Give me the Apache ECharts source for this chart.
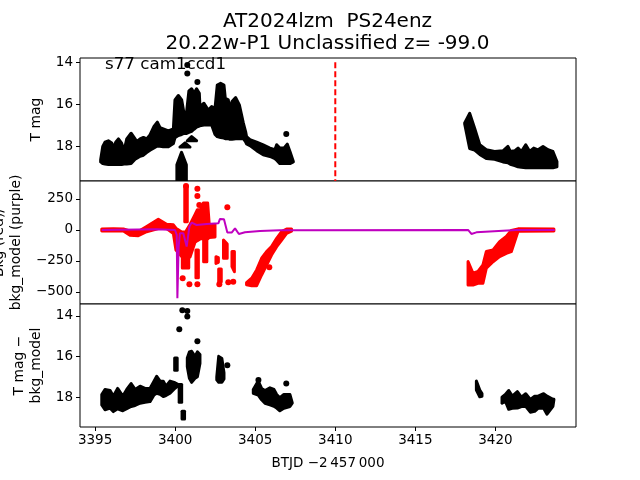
<!DOCTYPE html>
<html><head><meta charset="utf-8">
<style>html,body{margin:0;padding:0;background:#fff}#c{width:640px;height:480px}</style>
<script src="https://cdn.jsdelivr.net/npm/echarts@6/dist/echarts.min.js"></script>
</head><body><div id="c"></div>
<script>
// Dense point clouds: each block is a list of [BTJD, upper value, lower value]
const magBlocks = [
 [[3395.35,18.66,18.76],[3395.48,18.02,18.84],[3395.62,17.82,18.86],[3395.83,17.75,18.88],[3396.04,17.86,18.88],[3396.14,18.10,18.88],
  [3396.29,17.82,18.88],[3396.46,17.66,18.88],[3396.66,17.86,18.88],[3396.81,18.23,18.86],[3396.98,17.66,18.86],[3397.25,17.39,18.84],
  [3397.50,17.66,18.63],[3397.64,17.78,18.57],[3397.81,17.66,18.49],[3398.02,17.59,18.44],[3398.22,17.66,18.31],[3398.43,17.47,18.20],
  [3398.68,17.07,18.09],[3398.89,16.86,18.00],[3399.06,17.12,18.01],[3399.26,17.18,18.04],[3399.58,17.28,18.04],[3399.89,17.18,17.88],
  [3399.99,15.80,17.60],[3400.20,15.59,17.50],[3400.41,15.80,17.45],[3400.55,16.42,17.40],
  [3400.72,16.35,17.40],[3400.86,15.37,17.35],[3401.03,15.27,17.30],[3401.18,15.48,17.20],[3401.34,15.27,17.10],[3401.51,15.48,17.05],
  [3401.55,16.12,17.03],[3401.80,15.96,17.00],[3402.07,16.28,17.00],[3402.28,16.12,17.00],[3402.49,16.20,17.45],[3402.63,15.09,17.55],
  [3402.84,15.01,17.60],[3403.05,15.09,17.62],[3403.13,15.72,17.65],[3403.32,15.80,17.65],[3403.42,16.28,17.68],[3403.55,15.88,17.68],
  [3403.78,15.69,17.65],[3404.01,16.04,17.65],[3404.26,16.91,17.65],[3404.40,17.31,17.80],[3404.46,17.55,17.90],[3404.67,17.70,17.98],
  [3405.09,17.82,18.22],[3405.50,17.95,18.42],[3405.92,18.10,18.50],[3406.23,18.18,18.60],[3406.34,17.94,18.68],[3406.54,18.10,18.84],
  [3406.79,18.10,18.84],[3407.00,17.91,18.84],[3407.17,18.26,18.84],[3407.38,18.74,18.76]],
 [[3400.11,18.90,19.70],[3400.40,18.30,19.70],[3400.70,18.90,19.70]],
 [[3400.30,18.05,18.05],[3400.62,17.85,18.05],[3400.93,18.05,18.05]],
 [[3400.76,17.75,17.75],[3401.03,17.55,17.75],[3401.34,17.75,17.75]],
 [[3418.08,16.90,16.95],[3418.39,16.44,18.12],[3418.70,17.15,18.20],[3419.02,17.94,18.40],[3419.43,18.18,18.60],[3419.95,18.26,18.63],
  [3420.47,18.23,18.76],[3420.78,18.02,18.80],[3420.93,18.26,18.87],[3421.20,18.23,18.93],[3421.41,18.10,18.99],[3421.62,18.26,19.02],
  [3421.89,17.94,19.04],[3422.14,18.26,19.04],[3422.39,18.10,19.04],[3422.66,18.18,19.04],[3422.97,18.02,19.04],[3423.28,18.18,19.04],
  [3423.59,18.26,19.04],[3423.84,18.74,18.99]]
];
const magDots = [[3400.76,14.14],[3400.76,14.54],[3401.39,14.94],[3406.94,17.43]];

const bkgBlocks = [
 [[3395.42,8,-8],[3396.14,9,-9],[3396.77,8,-9],[3397.18,-8,-42],[3397.70,-12,-46],[3398.22,28,-14],[3398.95,86,12],[3399.47,46,12],
  [3399.89,42,-28],[3400.05,14,-162],[3400.41,-16,-215],[3400.65,-16,-215],[3400.93,44,-218],[3401.24,124,-100],[3401.39,164,-86],
  [3401.59,164,-71],[3401.76,218,-71],[3402.03,218,-71],[3402.13,44,-61],[3402.49,44,-57]],
 [[3400.68,350,66]],
 [[3400.45,-217,-306],[3400.85,-217,-306]],
 [[3401.30,-161,-385],[3401.45,-161,-385]],
 [[3401.78,-49,-256],[3401.98,-49,-256]],
 [[3402.55,-215,-269],[3402.70,-223,-261]],
 [[3402.72,-314,-417],[3402.88,-314,-417]],
 [[3403.02,-80,-229],[3403.25,-114,-229]],
 [[3403.55,-174,-296],[3403.70,-174,-336]],
 [[3404.46,-425,-442],[3404.78,-389,-449],[3405.09,-322,-449],[3405.40,-228,-363],[3405.71,-174,-283],[3406.02,-134,-202],
  [3406.34,-67,-135],[3406.65,-13,-81],[3406.96,8,-27],[3407.27,8,-10]],
 [[3418.29,-255,-444],[3418.60,-349,-444],[3418.91,-335,-430],[3419.22,-282,-430],[3419.43,-174,-309],[3419.85,-161,-256],
  [3420.26,-94,-215],[3420.68,-53,-188],[3420.99,-3,-175],[3421.41,9,-10],[3423.65,8,-8]]
];
const bkgDots = [[3400.68,355],[3401.39,333],[3401.39,274],[3401.51,202],[3403.26,183],[3405.88,-301],[3400.89,-438],[3401.39,-438],
 [3400.47,-390],[3402.76,-438],[3403.32,-422],[3403.63,-417]];

const modelLine = [
 [3395.42,0],[3398.85,5],[3399.99,0],[3400.10,-40],[3400.14,-551],[3400.22,-134],[3400.30,-27],[3400.51,-27],[3400.72,-134],[3400.89,27],
 [3401.03,59],[3401.34,40],[3401.97,48],[3402.70,54],[3402.80,89],[3403.05,86],[3403.26,-21],[3403.53,-21],[3403.74,13],[3403.98,-32],
 [3404.36,-19],[3405.30,-8],[3406.54,-3],[3407.38,-3],[3418.29,0],[3418.50,-32],[3418.81,-19],[3421.30,0],[3423.70,0]
];

const diffBlocks = [
 [[3395.42,17.87,18.38],[3395.62,17.62,18.62],[3395.94,17.67,18.54],[3396.14,17.95,18.71],[3396.41,17.57,18.57],[3396.73,17.95,18.67],
  [3396.98,17.62,18.57],[3397.25,17.33,18.46],[3397.50,17.62,18.41],[3397.81,17.46,18.30],[3398.12,17.57,18.25],[3398.43,17.57,18.22],
  [3398.68,17.21,17.89],[3398.85,16.97,17.81],[3399.06,17.21,17.86],[3399.26,17.21,17.97],[3399.43,17.46,17.92],[3399.68,17.21,17.81],
  [3399.99,17.29,17.56],[3400.20,17.38,17.43]],
 [[3400.05,16.07,16.67]],
 [[3400.33,17.38,18.25]],
 [[3400.51,18.69,19.07]],
 [[3400.76,16.07,16.50],[3400.89,15.77,17.07],[3401.03,15.74,17.27],[3401.24,15.99,17.07],[3401.39,15.77,16.99],[3401.55,15.90,16.34]],
 [[3402.60,17.00,17.15],[3402.72,15.99,17.27],[3402.92,16.10,17.27],[3403.05,16.80,17.10]],
 [[3404.88,17.62,17.81],[3405.19,17.21,17.90],[3405.40,17.57,18.13],[3405.61,17.67,18.30],[3405.92,17.54,18.38],[3406.17,17.62,18.45],
  [3406.34,17.87,18.54],[3406.54,18.03,18.67],[3406.79,17.87,18.55],[3407.17,17.87,18.46],[3407.31,18.27,18.30]],
 [[3418.81,17.20,17.65],[3419.02,17.65,17.98],[3419.16,17.82,17.96]],
 [[3420.41,18.00,18.30],[3420.62,17.87,18.20],[3420.83,17.67,18.60],[3421.05,17.95,18.55],[3421.37,17.73,18.54],[3421.62,18.00,18.46],
  [3421.89,17.83,18.45],[3422.18,18.11,18.74],[3422.45,17.95,18.70],[3422.66,17.95,18.55],[3423.01,17.83,18.55],[3423.22,17.95,18.84],
  [3423.59,18.11,18.45],[3423.65,18.10,18.13]]
];
const diffDots = [[3400.45,13.72],[3400.76,13.75],[3400.76,14.03],[3400.26,14.65],[3401.39,15.24],[3403.26,16.43],[3405.20,17.16],[3406.94,17.33]];

const threshold = [[3410,14],[3410,19.67]];
const xTicks = [3395,3400,3405,3410,3415,3420];
const magTicks = [14,16,18];
const bkgTicks = [-500,-250,0,250];
const diffTicks = [14,16,18];

const font = 'DejaVu Sans';
const ink = '#000';
const minus = v => String(v).replace('-', '\u2212');
const chart = echarts.init(document.getElementById('c'), null, {renderer:'canvas'});

// One filled envelope through a block's upper and lower readings
function cloud(idx, rows, color){
  return {type:'custom', coordinateSystem:'cartesian2d', xAxisIndex:idx, yAxisIndex:idx, clip:true, z:2, silent:true, animation:false,
    data:[rows[0]], encode:{x:0,y:[1,2]},
    renderItem:(p,api)=>{
      const up=rows.map(r=>api.coord([r[0],r[1]])), lo=rows.map(r=>api.coord([r[0],r[2]])).reverse();
      if(rows.length===1){ up[0][0]-=1.25; lo[0][0]-=1.25; up.push([up[0][0]+2.5,up[0][1]]); lo.unshift([lo[0][0]+2.5,lo[0][1]]); }
      return {type:'polygon', shape:{points:up.concat(lo)},
        style:{fill:color,stroke:color,lineWidth:3,lineJoin:'round'}};
    }};
}
function dots(idx, d, color, size){
  return {type:'scatter', xAxisIndex:idx, yAxisIndex:idx, data:d, symbolSize:size, z:3, silent:true, animation:false,
    itemStyle:{color:color,opacity:1}};
}
const X = (i, last) => ({type:'value', gridIndex:i, min:3394.06, max:3425.03, splitLine:{show:false}, axisLine:{show:false},
  axisTick:{show:last,length:4,lineStyle:{color:'#000',width:1},customValues:xTicks},
  axisLabel:{show:last,color:ink,fontFamily:font,fontSize:13.5,margin:6,customValues:xTicks,formatter:v=>String(v)},
  name:last?'BTJD \u22122\u2009457\u2009000':'', nameLocation:'middle', nameGap:29,
  nameTextStyle:{color:ink,fontFamily:font,fontSize:13.5}});
const Y = (i, min, max, inv, ticks, name, gap) => ({type:'value', gridIndex:i, min:min, max:max, inverse:inv,
  splitLine:{show:false}, axisLine:{show:false},
  axisTick:{show:true,length:4,lineStyle:{color:'#000',width:1},customValues:ticks},
  axisLabel:{color:ink,fontFamily:font,fontSize:13.5,margin:7,customValues:ticks,formatter:minus},
  name:name, nameLocation:'middle', nameGap:gap, nameRotate:90,
  nameTextStyle:{color:ink,fontFamily:font,fontSize:13.9,lineHeight:17}});
const G = (top,h) => ({left:80,width:496,top:top,height:h,show:true,borderColor:'#000',borderWidth:1,backgroundColor:'#fff',outerBoundsMode:'none'});

chart.setOption({
  animation:false, backgroundColor:'#fff',
  title:{text:'AT2024lzm  PS24enz\n20.22w-P1 Unclassified z= -99.0', left:322.5, top:6, textAlign:'center',
    textStyle:{color:ink,fontFamily:font,fontSize:20,fontWeight:'normal',lineHeight:22}},
  grid:[G(58,123),G(181,123),G(304,123)],
  xAxis:[X(0,false),X(1,false),X(2,true)],
  yAxis:[Y(0,13.8,19.67,true,magTicks,'T mag',23),
         Y(1,-597,395,false,bkgTicks,'Bkg (red)/\nbkg_model (purple)',52),
         Y(2,13.41,19.47,true,diffTicks,'T mag \u2212\nbkg_model',32)],
  graphic:[{type:'text',left:105,top:56,z:100,style:{text:'s77 cam1ccd1',fill:ink,font:'16.7px "DejaVu Sans"'}}],
  series:[
    ...magBlocks.map(b=>cloud(0,b,'#000')), dots(0,magDots,'#000',6),
    {type:'line',xAxisIndex:0,yAxisIndex:0,data:threshold,symbol:'none',z:4,animation:false,silent:true,
      lineStyle:{color:'#f00',width:2,type:[6,3]}},
    ...bkgBlocks.map(b=>cloud(1,b,'#f00')), dots(1,bkgDots,'#f00',6),
    {type:'line',xAxisIndex:1,yAxisIndex:1,data:modelLine,symbol:'none',z:4,animation:false,silent:true,
      lineStyle:{color:'#bf00bf',width:2}},
    ...diffBlocks.map(b=>cloud(2,b,'#000')), dots(2,diffDots,'#000',6)
  ]
});
</script></body></html>
